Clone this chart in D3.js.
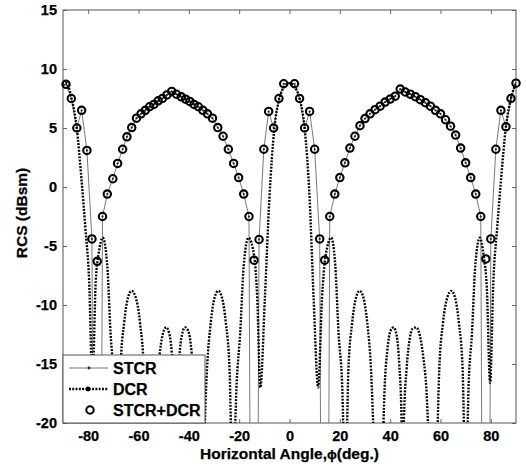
<!DOCTYPE html>
<html>
<head>
<meta charset="utf-8">
<script src="https://cdn.jsdelivr.net/npm/d3@7"></script>
<style>
	body { margin: 0; background: #fff; }
	svg text { font-family: "Liberation Sans", Arial, sans-serif; font-weight: bold; fill: #000; stroke: #000; stroke-width: 0.25px; }
</style>
</head>
<body>
<svg id="chart"></svg>
<script>
// sample angles (deg.) shared by STCR and STCR+DCR
const sampleAngles = [
	-88.8, -86.7, -84.5, -82.6, -80.5, -78.5, -76.4, -74.3, -72.4, -70.2,
	-68.3, -66.3, -64.6, -62.7, -60.8, -59.0, -57.3, -55.6, -53.9, -52.2,
	-50.5, -48.7, -46.8, -44.9, -43.0, -41.3, -39.6, -37.9, -36.2, -34.4,
	-32.6, -30.6, -28.5, -26.4, -24.3, -22.2, -20.2, -18.2, -16.1, -14.1,
	-12.1, -10.2, -8.3, -6.3, -4.2, -2.3,
	2, 4, 6, 8, 10, 12, 14, 16, 18, 20,
	22, 24, 26, 28, 30, 32, 34, 36, 38, 40,
	42, 44, 46, 48, 50, 52, 54, 56, 58, 60,
	62, 64, 66, 68, 70, 72, 74, 76, 78, 80,
	82, 84, 86, 88, 90
] ;

// STCR+DCR (dBsm)
const sumValues = [
	8.7, 7.5, 5.0, 6.5, 3.1, -4.4, -6.3, -2.5, -0.6, 0.7,
	2.0, 3.2, 4.25, 5.04, 5.83, 6.2, 6.5, 6.8, 7.0, 7.3,
	7.5, 7.8, 8.1, 7.86, 7.64, 7.44, 7.25, 7.0, 6.8, 6.5,
	6.2, 5.83, 5.04, 4.3, 3.2, 2.0, 0.8, -0.6, -2.5, -6.2,
	-4.45, 3.2, 6.4, 5.0, 7.5, 8.75,
	8.75, 7.5, 5.0, 6.4, 3.2, -4.4, -6.2, -2.5, -0.6, 0.8,
	2.05, 3.3, 4.3, 5.2, 5.8, 6.2, 6.55, 6.85, 7.2, 7.45,
	7.7, 8.3, 8.05, 7.87, 7.65, 7.4, 7.15, 6.85, 6.5, 6.2,
	5.7, 5.15, 4.4, 3.3, 2.05, 0.8, -0.6, -2.5, -6.1, -4.4,
	3.2, 6.5, 5.1, 7.5, 8.8
] ;

// STCR (dBsm), nulls far below the axis
const stcrValues = [
	8.7, 7.5, 5.0, 6.5, 3.1, -4.4, -100, -2.5, -0.6, 0.7,
	2.0, 3.2, 4.25, 5.04, 5.83, 6.2, 6.5, 6.8, 7.0, 7.3,
	7.5, 7.8, 8.1, 7.86, 7.64, 7.44, 7.25, 7.0, 6.8, 6.5,
	6.2, 5.83, 5.04, 4.3, 3.2, 2.0, 0.8, -0.6, -2.5, -100,
	-4.45, 3.2, 6.4, 5.0, 7.5, 8.75,
	8.75, 7.5, 5.0, 6.4, 3.2, -4.4, -100, -2.5, -0.6, 0.8,
	2.05, 3.3, 4.3, 5.2, 5.8, 6.2, 6.55, 6.85, 7.2, 7.45,
	7.7, 8.3, 8.05, 7.87, 7.65, 7.4, 7.15, 6.85, 6.5, 6.2,
	5.7, 5.15, 4.4, 3.3, 2.05, 0.8, -0.6, -2.5, -100, -4.4,
	3.2, 6.5, 5.1, 7.5, 8.8
] ;

// DCR curve
const dcrAngles = [
	-90, -88.6, -86.6, -84.6, -82.6, -81.1, -79.6, -78.3, -77.0, -75.8,
	-74.2, -72.4, -71.1, -69.8, -68.5, -67.2, -65.7, -64.2, -62.7, -61.2,
	-59.4, -57.9, -56.8, -55.6, -54.4, -53.2, -51.8, -50.4, -49.0, -47.8,
	-46.8, -46.0, -45.3, -44.7, -43.8, -42.7, -41.5, -40.2, -39.0, -37.9,
	-36.9, -35.3, -34.0, -32.8, -31.3, -29.8, -28.3, -26.8, -25.3, -23.8,
	-22.6, -21.0, -19.6, -18.2, -16.3, -14.0, -12.8, -11.6, -9.8, -8.0,
	-6.0, -4.0, -2.0, 0, 2, 4, 6, 8, 9.6, 11.4,
	12.9, 14.3, 16.6, 18.2, 19.5, 20.9, 22.2, 23.4, 24.9, 26.4,
	27.9, 29.4, 30.9, 32.4, 33.6, 35.2, 36.8, 37.8, 38.9, 40.1,
	41.4, 42.6, 43.6, 44.5, 45.0, 45.5, 46.5, 47.8, 49.0, 50.3,
	51.8, 53.2, 54.5, 55.7, 57.0, 58.4, 59.5, 61.0, 62.8, 64.3,
	65.8, 67.3, 68.8, 70.0, 71.2, 72.5, 73.8, 75.6, 77.2, 78.4,
	79.7, 81.0, 82.5, 84.0, 86.0, 88.0, 90
] ;
const dcrValues = [
	8.6, 8.8, 7.5, 5.1, 0.5, -3.5, -8, -16.6, -8.0, -5.6,
	-4.3, -6.7, -12.4, -16.6, -26, -15.5, -11.5, -9.4, -8.8, -9.3,
	-11.5, -15.5, -24, -30, -24, -17.5, -14.5, -12.5, -11.9, -12.4,
	-14, -17, -26, -18, -14.5, -12.5, -11.9, -12.2, -13.8, -17,
	-24, -30, -22, -15.5, -11.5, -9.4, -8.8, -9.4, -11.5, -15.5,
	-26, -16.6, -12.4, -6.7, -4.3, -5.9, -9.5, -17, -9.5, -1,
	5.0, 7.5, 8.5, 8.8, 8.5, 7.5, 5.0, -1, -9.5, -17,
	-9.5, -5.9, -4.3, -6.7, -12.4, -16.6, -26, -15.5, -11.5, -9.4,
	-8.8, -9.4, -11.5, -15.5, -22, -30, -24, -17, -13.8, -12.2,
	-11.9, -12.6, -15, -19.5, -26, -19.5, -15.5, -12.8, -12, -11.9,
	-12.6, -14.5, -17.5, -24, -30, -24, -15.5, -11.5, -9.3, -8.8,
	-9.4, -11.5, -15.5, -26, -16.6, -12.4, -6.7, -4.3, -5.9, -8.5,
	-16.6, -8, -3.5, 0.5, 5.1, 7.5, 8.8
] ;

const xTicks = [ -80, -60, -40, -20, 0, 20, 40, 60, 80 ] ;
const yTicks = [ -20, -15, -10, -5, 0, 5, 10, 15 ] ;
const legendLabels = [ 'STCR', 'DCR', 'STCR+DCR' ] ;

const geom = {
	width: 526,
	height: 466,
	margins: { top: 10, right: 10, bottom: 43, left: 63 }
} ;

const scales = {
	x: d3.scaleLinear()
		.domain( [ -90, 90 ] )
		.range( [ geom.margins.left, geom.width - geom.margins.right ] ),
	y: d3.scaleLinear()
		.domain( [ -20, 15 ] )
		.range( [ geom.height - geom.margins.bottom, geom.margins.top ] )
} ;

const svg = d3.select( '#chart' )
	.attr( 'width', geom.width )
	.attr( 'height', geom.height ) ;

const plotW = scales.x( 90 ) - scales.x( -90 ) ;
const plotH = scales.y( -20 ) - scales.y( 15 ) ;

svg.append( 'clipPath' )
	.attr( 'id', 'plotclip' )
	.append( 'rect' )
	.attr( 'x', scales.x( -90 ) )
	.attr( 'y', scales.y( 15 ) )
	.attr( 'width', plotW )
	.attr( 'height', plotH ) ;

// axes box and inward ticks on all four sides
function styleAxis( g ) {
	g.select( '.domain' ).remove() ;
	g.selectAll( '.tick line' ).attr( 'stroke', '#444' ).attr( 'stroke-width', 0.8 ) ;
	g.attr( 'font-size', 14.5 )
		.attr( 'font-family', '"Liberation Sans", Arial, sans-serif' ) ;
	g.selectAll( 'text' ).attr( 'fill', '#000' ) ;
}

svg.append( 'g' )
	.attr( 'transform', 'translate(0 ' + scales.y( -20 ) + ')' )
	.call( d3.axisBottom( scales.x ).tickValues( xTicks ).tickSize( -4 ).tickPadding( 8 ).tickFormat( d => String( d ) ) )
	.call( styleAxis ) ;

svg.append( 'g' )
	.attr( 'transform', 'translate(0 ' + scales.y( 15 ) + ')' )
	.call( d3.axisTop( scales.x ).tickValues( xTicks ).tickSize( -4 ).tickFormat( '' ) )
	.call( styleAxis ) ;

svg.append( 'g' )
	.attr( 'transform', 'translate(' + scales.x( -90 ) + ' 0)' )
	.call( d3.axisLeft( scales.y ).tickValues( yTicks ).tickSize( -4 ).tickPadding( 6 ).tickFormat( d => String( d ) ) )
	.call( styleAxis ) ;

svg.append( 'g' )
	.attr( 'transform', 'translate(' + scales.x( 90 ) + ' 0)' )
	.call( d3.axisRight( scales.y ).tickValues( yTicks ).tickSize( -4 ).tickFormat( '' ) )
	.call( styleAxis ) ;

svg.append( 'rect' )
	.attr( 'x', scales.x( -90 ) )
	.attr( 'y', scales.y( 15 ) )
	.attr( 'width', plotW )
	.attr( 'height', plotH )
	.attr( 'fill', 'none' )
	.attr( 'stroke', '#555' )
	.attr( 'stroke-width', 1 ) ;

// series
const samples = sampleAngles.map( ( a, i ) => ( { angle: a, stcr: stcrValues[i], sum: sumValues[i] } ) ) ;
const dcr = dcrAngles.map( ( a, i ) => ( { angle: a, value: dcrValues[i] } ) ) ;

const plot = svg.append( 'g' ).attr( 'clip-path', 'url(#plotclip)' ) ;

plot.append( 'path' )
	.datum( samples )
	.attr( 'fill', 'none' )
	.attr( 'stroke', '#6a6a6a' )
	.attr( 'stroke-width', 0.9 )
	.attr( 'd', d3.line()
		.x( d => scales.x( d.angle ) )
		.y( d => scales.y( d.stcr ) ) ) ;

plot.selectAll( 'circle.stcr' )
	.data( samples.filter( d => d.stcr >= -20 ) )
	.enter()
	.append( 'circle' )
	.attr( 'class', 'stcr' )
	.attr( 'cx', d => scales.x( d.angle ) )
	.attr( 'cy', d => scales.y( d.stcr ) )
	.attr( 'r', 1.1 )
	.attr( 'fill', '#222' ) ;

plot.append( 'path' )
	.datum( dcr )
	.attr( 'fill', 'none' )
	.attr( 'stroke', '#000' )
	.attr( 'stroke-width', 2.4 )
	.attr( 'stroke-dasharray', '1.9 1.4' )
	.attr( 'd', d3.line()
		.curve( d3.curveMonotoneX )
		.x( d => scales.x( d.angle ) )
		.y( d => scales.y( d.value ) ) ) ;

svg.append( 'g' )
	.selectAll( 'circle' )
	.data( samples )
	.enter()
	.append( 'circle' )
	.attr( 'class', 'sum' )
	.attr( 'cx', d => scales.x( d.angle ) )
	.attr( 'cy', d => scales.y( d.sum ) )
	.attr( 'r', 3.7 )
	.attr( 'fill', 'none' )
	.attr( 'stroke', '#000' )
	.attr( 'stroke-width', 2.1 ) ;

// legend, bottom left inside the axes
const lg = svg.append( 'g' ) ;
const lgX = scales.x( -90 ) ;
const lgY = 355 ;
lg.append( 'rect' )
	.attr( 'x', lgX )
	.attr( 'y', lgY )
	.attr( 'width', 142 )
	.attr( 'height', scales.y( -20 ) - lgY )
	.attr( 'fill', '#fff' )
	.attr( 'stroke', '#444' )
	.attr( 'stroke-width', 0.9 ) ;

legendLabels.forEach( ( label, i ) => {
	let cy = lgY + 13 + i * 21 ;
	if( i == 0 ) {
		lg.append( 'line' ).attr( 'x1', lgX + 6 ).attr( 'x2', lgX + 45 ).attr( 'y1', cy ).attr( 'y2', cy )
			.attr( 'stroke', '#6a6a6a' ).attr( 'stroke-width', 0.9 ) ;
		lg.append( 'circle' ).attr( 'cx', lgX + 26 ).attr( 'cy', cy ).attr( 'r', 1.4 ).attr( 'fill', '#222' ) ;
	} else if( i == 1 ) {
		lg.append( 'line' ).attr( 'x1', lgX + 6 ).attr( 'x2', lgX + 45 ).attr( 'y1', cy ).attr( 'y2', cy )
			.attr( 'stroke', '#000' ).attr( 'stroke-width', 2.4 ).attr( 'stroke-dasharray', '1.9 1.4' ) ;
		lg.append( 'circle' ).attr( 'cx', lgX + 25 ).attr( 'cy', cy ).attr( 'r', 2.4 ).attr( 'fill', '#000' ) ;
	} else {
		lg.append( 'circle' ).attr( 'cx', lgX + 27 ).attr( 'cy', cy ).attr( 'r', 3.7 )
			.attr( 'fill', 'none' ).attr( 'stroke', '#000' ).attr( 'stroke-width', 2.1 ) ;
	}
	lg.append( 'text' )
		.attr( 'x', lgX + 50 )
		.attr( 'y', cy )
		.attr( 'dy', '0.36em' )
		.attr( 'font-size', 16 )
		.text( label ) ;
} ) ;

// axis titles
svg.append( 'text' )
	.attr( 'x', ( scales.x( -90 ) + scales.x( 90 ) ) / 2 )
	.attr( 'y', 458.5 )
	.attr( 'text-anchor', 'middle' )
	.attr( 'font-size', 15.5 )
	.text( 'Horizontal Angle,' )
	.append( 'tspan' )
	.attr( 'font-size', 13 )
	.text( 'ϕ' )
	.append( 'tspan' )
	.attr( 'font-size', 15.5 )
	.text( '(deg.)' ) ;

svg.append( 'text' )
	.attr( 'transform', 'translate(22 ' + scales.y( -2.2 ) + ') rotate(-90)' )
	.attr( 'text-anchor', 'middle' )
	.attr( 'dy', '0.35em' )
	.attr( 'font-size', 15.5 )
	.text( 'RCS (dBsm)' ) ;
</script>
</body>
</html>
